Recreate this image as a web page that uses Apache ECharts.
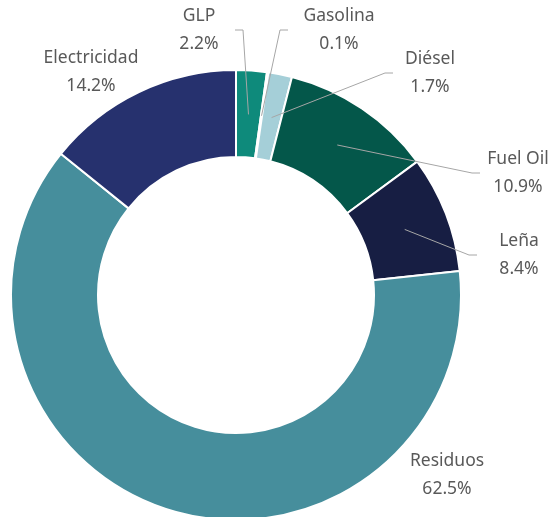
<!DOCTYPE html>
<html>
<head>
<meta charset="utf-8">
<script src="https://cdn.jsdelivr.net/npm/echarts@6/dist/echarts.min.js"></script>
<style>
  html, body { margin: 0; padding: 0; background: #fff; }
  #chart { width: 549px; height: 517px; }
</style>
</head>
<body>
<div id="chart"></div>
<script>
// datos del consumo por fuente (%)
const categories = ['GLP', 'Gasolina', 'Diésel', 'Fuel Oil', 'Leña', 'Residuos', 'Electricidad'];
const shares = [2.2, 0.1, 1.7, 10.9, 8.4, 62.5, 14.2];
const colors = ['#0e8a7b', '#6fa9b5', '#a5cfd8', '#04574a', '#171e43', '#468e9c', '#26316e'];

// posición de las etiquetas: centro del texto y distancia al inicio de la línea guía
const labelPos = [
  [199, 30, 36], [339, 30, 51], [430, 73, 37], [518, 173, 38], [519, 255, 42], [447, 475, 0], [91, 72, 0]
];
const noLine = ['Residuos', 'Electricidad'];

const center = [236, 295];

const chart = echarts.init(document.getElementById('chart'));

const ringData = categories.map((c, i) => ({
  name: c,
  value: shares[i],
  itemStyle: { color: colors[i] }
}));

const guideData = categories.map((c, i) => ({
  name: c,
  value: shares[i],
  labelLine: { show: noLine.indexOf(c) < 0 }
}));

const option = {
  animation: false,
  series: [
    {
      // anillo visible
      type: 'pie',
      center: center,
      radius: [138, 225],
      startAngle: 90,
      clockwise: true,
      silent: true,
      label: { show: false },
      labelLine: { show: false },
      itemStyle: { borderColor: '#fff', borderWidth: 2 },
      data: ringData
    },
    {
      // pie invisible solo para etiquetas y líneas guía (ancla en el medio del anillo)
      type: 'pie',
      z: 5,
      center: center,
      radius: [0, 181],
      startAngle: 90,
      clockwise: true,
      silent: true,
      avoidLabelOverlap: false,
      itemStyle: { color: 'rgba(0,0,0,0)' },
      label: {
        show: true,
        position: 'outside',
        fontFamily: 'Noto Sans',
        fontSize: 17.5,
        lineHeight: 28,
        color: '#595959',
        align: 'center',
        formatter: p => p.name + '\n' + p.value.toFixed(1) + '%'
      },
      labelLine: {
        show: true,
        length: 0,
        length2: 0,
        lineStyle: { color: '#a6a6a6', width: 1 }
      },
      labelLayout: function (params) {
        const pos = labelPos[params.dataIndex];
        const res = {
          x: pos[0],
          y: pos[1],
          align: 'center',
          verticalAlign: 'middle'
        };
        const pts = params.labelLinePoints;
        if (pts && pts.length) {
          const anchor = pts[0];
          const side = anchor[0] > pos[0] ? 1 : -1;
          const edgeX = pos[0] + side * pos[2];
          res.labelLinePoints = [
            [anchor[0], anchor[1]],
            [edgeX + side * 8, pos[1]],
            [edgeX, pos[1]]
          ];
        }
        return res;
      },
      data: guideData
    }
  ]
};

chart.setOption(option);
</script>
</body>
</html>
